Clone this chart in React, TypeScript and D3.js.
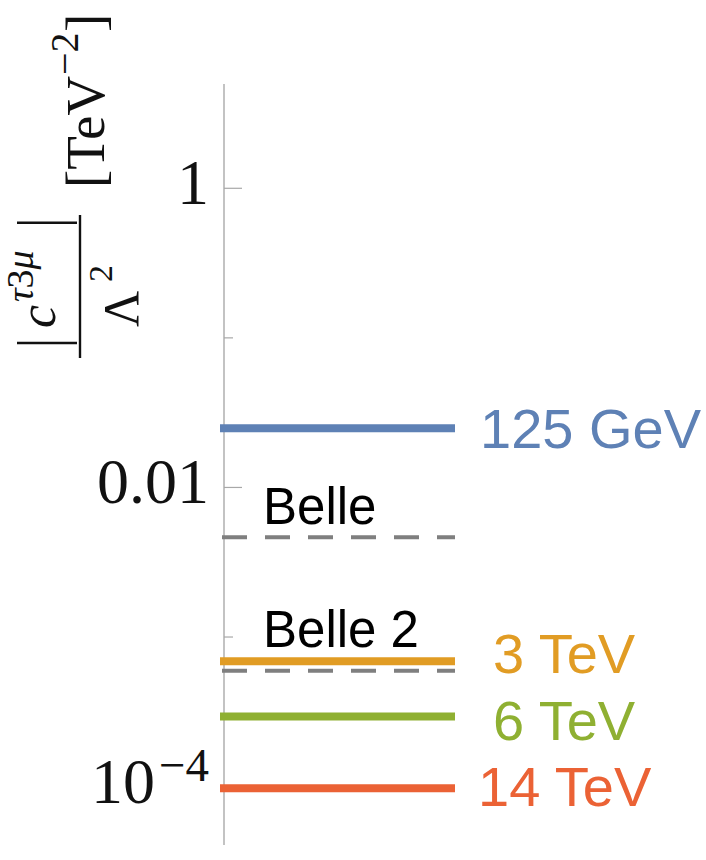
import React from "react";
import * as d3 from "d3";

// Coupling reach per collider energy (TeV^-2)
const series = ["125 GeV", "3 TeV", "6 TeV", "14 TeV"];
const seriesValues = [0.0249, 6.9e-4, 2.94e-4, 9.76e-5];
const seriesColors = ["#5E81B5", "#E19C24", "#8FB032", "#EB6235"];

// Existing / projected experimental bounds
const boundNames = ["Belle", "Belle 2"];
const boundValues = [0.00465, 5.96e-4];

// Axis ticks
const majorTicks = [1, 0.01, 1e-4];
const majorTickBase = ["1", "0.01", "10"];
const majorTickExp = ["", "", "\u22124"];
const minorTicks = [0.1, 0.001];
const yDomain: [number, number] = [4.07e-5, 4.98];

const W = 706;
const H = 860;

export default function App() {
  const y = d3.scaleLog().domain(yDomain).range([845, 84]);
  const axisX = 224;
  const x = d3.scaleLinear().domain([0, 1]).range([220, 455]);

  // label layout (start x, baseline offset from line)
  const seriesLabelX = [480, 493, 493, 478];
  const seriesLabelDy = [20, 12, 23, 18];
  const boundLabelDy = [-13, -24];

  const sans = "'Liberation Sans', Arial, Helvetica, sans-serif";
  const serif = "'Liberation Serif', 'Times New Roman', serif";

  return (
    <svg
      width={W}
      height={H}
      style={{ position: "absolute", left: 0, top: 0, background: "#fff" }}
    >
      {/* vertical axis */}
      <line
        x1={axisX}
        x2={axisX}
        y1={y(yDomain[1])}
        y2={y(yDomain[0])}
        stroke="#b4b4b4"
        strokeWidth={1.6}
      />
      {majorTicks.map((t, i) => (
        <g key={"M" + i}>
          <line x1={axisX} x2={axisX + 18} y1={y(t)} y2={y(t)} stroke="#a8a8a8" strokeWidth={1.2} />
          <text
            x={209}
            y={y(t) + 16}
            textAnchor="end"
            fontFamily={serif}
            fontSize={64}
            fill="#111"
          >
            {majorTickBase[i]}
            {majorTickExp[i] && (
              <tspan dx={4} dy={-22} fontSize={47}>
                {majorTickExp[i]}
              </tspan>
            )}
          </text>
        </g>
      ))}
      {minorTicks.map((t, i) => (
        <line key={"m" + i} x1={axisX} x2={axisX + 9} y1={y(t)} y2={y(t)} stroke="#a8a8a8" strokeWidth={1.2} />
      ))}

      {/* experimental bounds */}
      {boundValues.map((v, i) => (
        <g key={"b" + i}>
          <line
            x1={x(0) + 2}
            x2={x(1)}
            y1={y(v)}
            y2={y(v)}
            stroke="#7f7f7f"
            strokeWidth={4}
            strokeDasharray="25 18"
          />
          <text x={263} y={y(v) + boundLabelDy[i]} fontFamily={sans} fontSize={51} fill="#000">
            {boundNames[i]}
          </text>
        </g>
      ))}

      {/* collider reach */}
      {seriesValues.map((v, i) => (
        <g key={"s" + i}>
          <line x1={x(0)} x2={x(1)} y1={y(v)} y2={y(v)} stroke={seriesColors[i]} strokeWidth={8} />
          <text
            x={seriesLabelX[i]}
            y={y(v) + seriesLabelDy[i]}
            fontFamily={sans}
            fontSize={56}
            fill={seriesColors[i]}
          >
            {series[i]}
          </text>
        </g>
      ))}

      {/* y-axis title: |c^{τ3μ}| / Λ^2 [TeV^-2] */}
      <g transform="rotate(-90)" fontFamily={serif} fill="#111">
        <line x1={-358} x2={-215} y1={80} y2={80} stroke="#111" strokeWidth={2.4} />
        <line x1={-343} x2={-343} y1={17} y2={77} stroke="#111" strokeWidth={2.4} />
        <line x1={-222.7} x2={-222.7} y1={17} y2={77} stroke="#111" strokeWidth={2.4} />
        <text x={-328} y={55} fontSize={52} fontStyle="italic">c</text>
        <text x={-302} y={33} fontSize={38}>
          <tspan fontStyle="italic">τ</tspan>
          <tspan>3</tspan>
          <tspan fontStyle="italic">μ</tspan>
        </text>
        <text x={-327} y={138} fontSize={50}>Λ</text>
        <text x={-282} y={112} fontSize={34}>2</text>
        <text x={-188} y={104} fontSize={55}>[TeV</text>
        <text x={-75} y={78} fontSize={40}>{"\u22122"}</text>
        <text x={-32} y={104} fontSize={55}>]</text>
      </g>
    </svg>
  );
}
